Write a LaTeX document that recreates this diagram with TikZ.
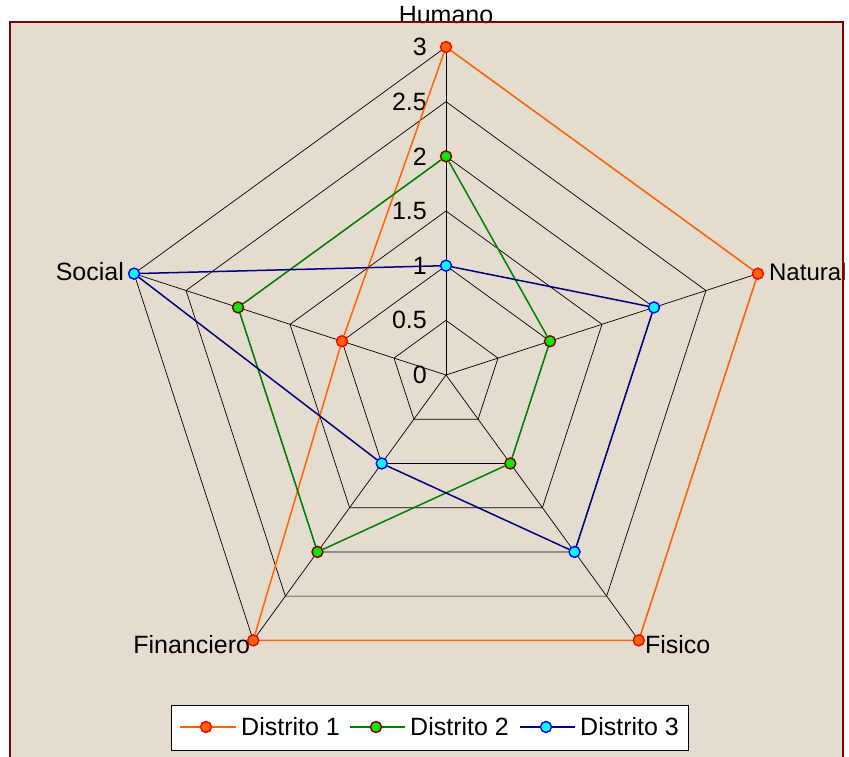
\documentclass[tikz,border=0pt]{standalone}
\usepackage{fontspec}
\setmainfont{Liberation Sans}
\usepackage{tikz}
\usetikzlibrary{shapes.geometric,positioning}
\definecolor{framecolor}{RGB}{128,0,0}
\definecolor{papercolor}{RGB}{228,220,207}
\definecolor{d1color}{RGB}{255,102,0}
\definecolor{d2color}{RGB}{0,128,0}
\definecolor{d3color}{RGB}{0,0,128}
\definecolor{d1edge}{RGB}{255,0,0}
\definecolor{d2fill}{RGB}{0,235,0}
\definecolor{d3edge}{RGB}{0,0,255}
\definecolor{d3fill}{RGB}{0,255,255}

\begin{document}
\begin{tikzpicture}[
    x=1pt, y=1pt,
    font=\fontsize{25}{30}\selectfont,
    ring/.style={regular polygon, regular polygon sides=5, draw=black, line width=0.7pt, inner sep=0pt, outer sep=0pt},
    spoke/.style={draw=black, line width=0.7pt},
    ticklabel/.style={inner sep=0pt},
    axislabel/.style={inner sep=0pt},
    dot/.style={circle, inner sep=0pt, minimum size=11pt, line width=1.4pt},
    d1dot/.style={dot, draw=d1edge, fill=d1color},
    d2dot/.style={dot, draw=framecolor, fill=d2fill},
    d3dot/.style={dot, draw=d3edge, fill=d3fill},
    d1line/.style={draw=d1color, line width=1.5pt},
    d2line/.style={draw=d2color, line width=1.5pt},
    d3line/.style={draw=d3color, line width=1.5pt},
    legendbox/.style={rectangle, draw=black, fill=white, line width=0.8pt, inner sep=0pt},
    keytext/.style={inner sep=0pt}
]
\useasboundingbox (0,0) rectangle (849,756);
\fill[white] (0,0) rectangle (849,756);
\fill[papercolor] (10,-10) rectangle (843,734);

% Grid
\coordinate (c) at (446,381);
\node[ring, minimum size=109.33pt] (r05) at (c) {};
\node[ring, minimum size=218.67pt] (r10) at (c) {};
\node[ring, minimum size=328pt] (r15) at (c) {};
\node[ring, minimum size=437.33pt] (r20) at (c) {};
\node[ring, minimum size=546.67pt] (r25) at (c) {};
\node[ring, minimum size=656pt] (r30) at (c) {};

\draw[spoke] (c) -- (r30.corner 1);
\draw[spoke] (c) -- (r30.corner 2);
\draw[spoke] (c) -- (r30.corner 3);
\draw[spoke] (c) -- (r30.corner 4);
\draw[spoke] (c) -- (r30.corner 5);

% Scale
\node[ticklabel, left=19pt of c] (t0) {0};
\node[ticklabel, left=19pt of r05.corner 1] (t05) {0.5};
\node[ticklabel, left=19pt of r10.corner 1] (t10) {1};
\node[ticklabel, left=19pt of r15.corner 1] (t15) {1.5};
\node[ticklabel, left=19pt of r20.corner 1] (t20) {2};
\node[ticklabel, left=19pt of r25.corner 1] (t25) {2.5};
\node[ticklabel, left=19pt of r30.corner 1] (t30) {3};

% Axis names
\node[axislabel, above=23pt of r30.corner 1] (humano) {Humano};
\node[axislabel, right=11pt of r30.corner 5, yshift=2pt, font=\fontsize{24}{28}\selectfont] (natural) {Natural};
\node[axislabel, right=6pt of r30.corner 4, yshift=-4pt] (fisico) {Fisico};
\node[axislabel, left=3pt of r30.corner 3, yshift=-4pt] (financiero) {Financiero};
\node[axislabel, left=10pt of r30.corner 2, yshift=2pt] (social) {Social};

% Distrito 1
\node[d1dot] (d1hum) at (r30.corner 1) {};
\node[d1dot] (d1nat) at (r30.corner 5) {};
\node[d1dot] (d1fis) at (r30.corner 4) {};
\node[d1dot] (d1fin) at (r30.corner 3) {};
\node[d1dot] (d1soc) at (r10.corner 2) {};
\draw[d1line] (d1hum) -- (d1nat) -- (d1fis) -- (d1fin) -- (d1soc) -- (d1hum);

% Distrito 2
\node[d2dot] (d2hum) at (r20.corner 1) {};
\node[d2dot] (d2nat) at (r10.corner 5) {};
\node[d2dot] (d2fis) at (r10.corner 4) {};
\node[d2dot] (d2fin) at (r20.corner 3) {};
\node[d2dot] (d2soc) at (r20.corner 2) {};
\draw[d2line] (d2hum) -- (d2nat) -- (d2fis) -- (d2fin) -- (d2soc) -- (d2hum);

% Distrito 3
\node[d3dot] (d3hum) at (r10.corner 1) {};
\node[d3dot] (d3nat) at (r20.corner 5) {};
\node[d3dot] (d3fis) at (r20.corner 4) {};
\node[d3dot] (d3fin) at (r10.corner 3) {};
\node[d3dot] (d3soc) at (r30.corner 2) {};
\draw[d3line] (d3hum) -- (d3nat) -- (d3fis) -- (d3fin) -- (d3soc) -- (d3hum);

% Legend
\node[legendbox, minimum width=517pt, minimum height=45pt] (legend) at (429.5,28.5) {};
\coordinate (k1a) at (180,29);
\coordinate (k1b) at (236,29);
\draw[d1line] (k1a) -- (k1b);
\node[d1dot] (k1) at (206,29) {};
\node[keytext, right=5pt of k1b] (k1text) {Distrito 1};
\coordinate (k2a) at (350,29);
\coordinate (k2b) at (405,29);
\draw[d2line] (k2a) -- (k2b);
\node[d2dot] (k2) at (376,29) {};
\node[keytext, right=5pt of k2b] (k2text) {Distrito 2};
\coordinate (k3a) at (520,29);
\coordinate (k3b) at (575,29);
\draw[d3line] (k3a) -- (k3b);
\node[d3dot] (k3) at (546,29) {};
\node[keytext, right=5pt of k3b] (k3text) {Distrito 3};

% Frame
\draw[framecolor, line width=2.2pt] (10,-10) rectangle (843,734);
\end{tikzpicture}
\end{document}
